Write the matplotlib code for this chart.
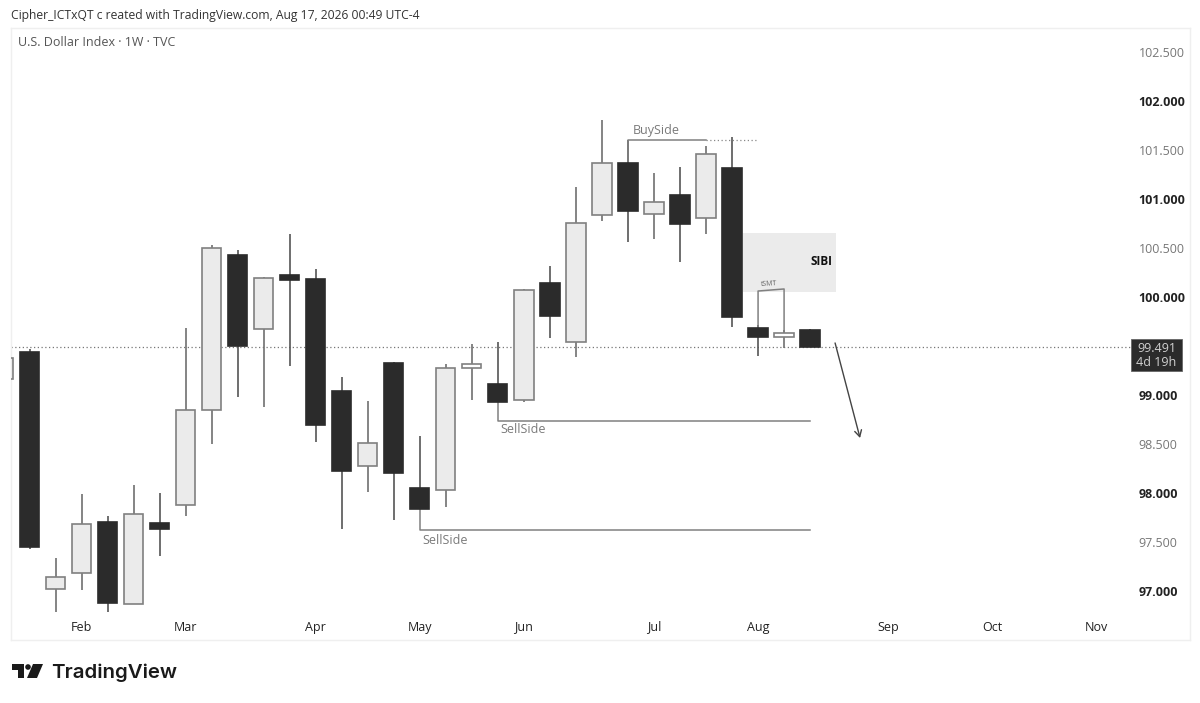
import matplotlib
matplotlib.use('Agg')
import matplotlib.pyplot as plt
from matplotlib.patches import Ellipse, Polygon, Rectangle

plt.rcParams['font.family'] = ['Open Sans', 'DejaVu Sans']

# weekly candles, index 0 is the big one on the left edge (-1 is cut off by the pane)
weeks = list(range(-1, 31))
opens = [99.163, 99.439, 97.020, 97.184, 97.704, 96.867, 97.694, 97.878, 98.847, 100.429, 99.673,
         100.224, 100.184, 99.041, 98.276, 99.327, 98.051, 98.031, 99.276, 99.112, 98.949,
         100.143, 99.541, 100.837, 101.367, 100.847, 101.041, 100.806, 101.316, 99.684, 99.592, 99.663]
highs = [99.378, 99.469, 97.337, 97.990, 97.765, 98.082, 98.000, 99.684, 100.531, 100.480, 100.204,
         100.643, 100.286, 99.184, 98.939, 99.337, 98.582, 99.316, 99.520, 99.541, 100.082,
         100.316, 101.122, 101.806, 101.602, 101.265, 101.327, 101.541, 101.633, 99.714, 99.663, 99.673]
lows = [99.163, 97.429, 96.786, 97.010, 96.786, 96.867, 97.357, 97.765, 98.500, 98.980, 98.878,
        99.296, 98.520, 97.633, 98.010, 97.724, 97.837, 97.857, 98.949, 98.929, 98.929,
        99.582, 99.388, 100.776, 100.561, 100.592, 100.357, 100.643, 99.694, 99.398, 99.480, 99.491]
closes = [99.378, 97.449, 97.143, 97.684, 96.878, 97.786, 97.633, 98.847, 100.500, 99.500, 100.194,
          100.173, 98.694, 98.224, 98.510, 98.204, 97.837, 99.276, 99.316, 98.929, 100.071,
          99.806, 100.755, 101.367, 100.878, 100.969, 100.745, 101.459, 99.796, 99.592, 99.633, 99.491]

month_pos = [2, 6, 11, 15, 19, 24, 28, 33, 37, 41]
month_labels = ['Feb', 'Mar', 'Apr', 'May', 'Jun', 'Jul', 'Aug', 'Sep', 'Oct', 'Nov']
price_ticks = [102.5, 102, 101.5, 101, 100.5, 100, 99, 98.5, 98, 97.5, 97]
last_price = 99.491

sibi_weeks = (27.42, 31.0)
sibi_prices = (100.051, 100.653)
buyside_price = 101.602
sellside_upper = 98.735
sellside_lower = 97.622
tsmt_prices = (99.684, 100.061, 100.082, 99.633)

fig = plt.figure(figsize=(12, 7.03), dpi=100)
W, H = 1200, 703
ax = fig.add_axes([11 / W, 1 - 640 / H, (1190 - 11) / W, (640 - 28) / H])
ax.set_xlim(-0.711, 44.6)
ax.set_ylim(96.5, 102.745)

for s in ax.spines.values():
    s.set_color('#efefef')
    s.set_linewidth(1)

dark = '#2b2b2b'
light = '#ebebeb'
edge = '#808080'
width = 0.74

ax.axhline(last_price, xmax=(1131 - 11) / (1190 - 11), color='#777777', lw=0.9, ls=(0, (1, 2)), zorder=1)

ax.add_patch(Rectangle((sibi_weeks[0], sibi_prices[0]), sibi_weeks[1] - sibi_weeks[0],
                       sibi_prices[1] - sibi_prices[0], fc=light, ec='none', zorder=1))

for w, o, h, l, c in zip(weeks, opens, highs, lows, closes):
    down = c < o
    ax.plot([w, w], [l, h], color='#555555' if down else '#707070', lw=1.2, zorder=2, solid_capstyle='butt')
    fill = dark if down else ('#ffffff' if abs(c - o) < 0.06 else light)
    ax.add_patch(Rectangle((w - width / 2, min(o, c)), width, abs(c - o),
                           fc=fill, ec=dark if down else edge, lw=1.2, zorder=3))

# annotations
line_c = '#808080'
ax.plot([23, 23, 26], [101.367, buyside_price, buyside_price], color=line_c, lw=1.1, zorder=2)
ax.plot([26, 28], [buyside_price, buyside_price], color='#888888', lw=0.9, ls=(0, (1, 2)), zorder=2)
ax.plot([18, 18, 30], [98.929, sellside_upper, sellside_upper], color=line_c, lw=1.1, zorder=2)
ax.plot([15, 15, 30], [97.837, sellside_lower, sellside_lower], color=line_c, lw=1.1, zorder=2)
ax.plot([28, 28, 29, 29], tsmt_prices, color=line_c, lw=1.1, zorder=2)
ax.annotate('', xy=(31.92, 98.561), xytext=(30.96, 99.531),
            arrowprops=dict(arrowstyle='->,head_length=0.45,head_width=0.25', color='#444444', lw=1.0,
                            shrinkA=0, shrinkB=0))

label_c = '#7a7a7a'
ax.text(23.2, 101.7, 'BuySide', fontsize=9, color=label_c, va='center')
ax.text(18.1, 98.643, 'SellSide', fontsize=9, color=label_c, va='center')
ax.text(15.1, 97.511, 'SellSide', fontsize=9, color=label_c, va='center')
ax.text(30.85, 100.36, 'SIBI', fontsize=8.5, color='#111111', fontweight='bold', va='center', ha='right')
ax.text(28.1, 100.135, 'tSMT', fontsize=5, color='#666666', va='center', rotation=3)

ax.set_xticks(month_pos)
ax.set_xticklabels(month_labels, fontsize=9, color='#222222')
ax.tick_params(axis='x', length=0, pad=-14)

ax.yaxis.tick_right()
ax.set_yticks(price_ticks)
ax.set_yticklabels([f'{p:.3f}' for p in price_ticks], fontsize=9, ha='left')
ax.tick_params(axis='y', length=0, pad=-37)
for lab, p in zip(ax.get_yticklabels(), price_ticks):
    if p % 1 == 0:
        lab.set_fontweight('bold')
        lab.set_color('#222222')
    else:
        lab.set_color('#777777')

# last price tag hangs below the price line
fig.add_artist(Rectangle((1131 / W, 1 - 371 / H), 51 / W, 32 / H, fc=dark, ec='#666666', lw=0.6,
                         transform=fig.transFigure))
fig.text(1156.5 / W, 1 - 348 / H, f'{last_price:.3f}', fontsize=9, color='#d0d0d0', ha='center', va='center')
fig.text(1156.5 / W, 1 - 362 / H, '4d 19h', fontsize=9, color='#d0d0d0', ha='center', va='center')

fig.text(11 / W, 1 - 15 / H, 'Cipher_ICTxQT c reated with TradingView.com, Aug 17, 2026 00:49 UTC-4',
         fontsize=8.72, color='#333333', va='center')
fig.text(18 / W, 1 - 43 / H, 'U.S. Dollar Index · 1W · TVC', fontsize=9, color='#555555', va='center')

# TradingView logo
logo = [[(12, 664), (24, 664), (24, 678), (18, 678), (18, 670), (12, 670)],
        [(33, 664), (43, 664), (37, 678), (27, 678)]]
for pts in logo:
    fig.add_artist(Polygon([(x / W, 1 - y / H) for x, y in pts], closed=True, fc='#1a1a1a', ec='none',
                           transform=fig.transFigure))
fig.add_artist(Ellipse((28 / W, 1 - 667 / H), 5.6 / W, 5.6 / H, fc='#1a1a1a', ec='none',
                       transform=fig.transFigure))
fig.text(51 / W, 1 - 672.5 / H, 'TradingView', fontsize=14.7, color='#1a1a1a', fontweight='semibold',
         family='Inter', va='center')

fig.savefig('out.png', dpi=100)
